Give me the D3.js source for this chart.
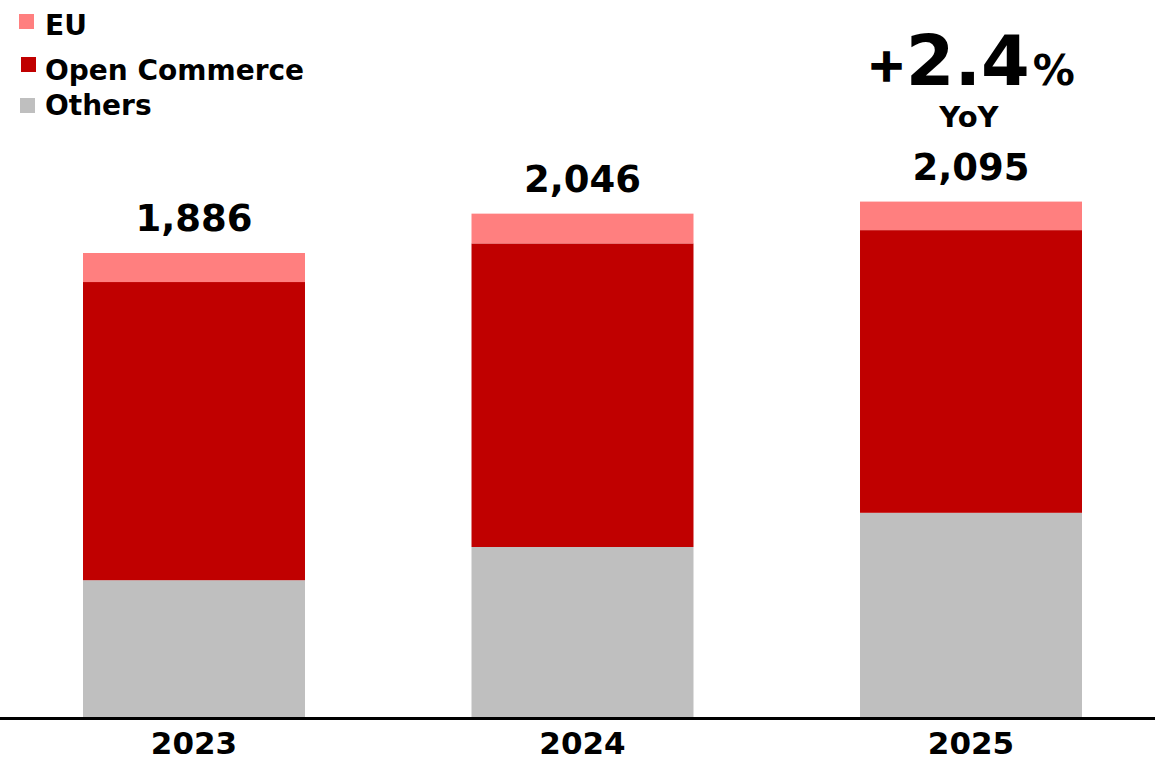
<!DOCTYPE html>
<html>
<head>
<meta charset="utf-8">
<script src="https://cdn.jsdelivr.net/npm/d3@7"></script>
<style>
  html, body { margin: 0; padding: 0; background: #ffffff; }
  svg { display: block; font-family: "DejaVu Sans", "Liberation Sans", sans-serif; font-weight: bold; }
</style>
</head>
<body>
<svg id="chart" width="1155" height="762"></svg>
<script>
// Revenue by segment, stacked per year
const years = ["2023", "2024", "2025"];
const others = [556, 691, 830];
const openCommerce = [1212, 1234, 1149];
const eu = [118, 121, 116];
const totalLabels = ["1,886", "2,046", "2,095"];
const growthLabel = { sign: "+", value: "2.4", unit: "%", caption: "YoY" };

const seriesNames = ["Others", "Open Commerce", "EU"];
const seriesColors = { "Others": "#bfbfbf", "Open Commerce": "#c00000", "EU": "#ff7f7f" };

const rows = years.map((y, i) => ({
  year: y,
  "Others": others[i],
  "Open Commerce": openCommerce[i],
  "EU": eu[i]
}));
const totals = rows.map(r => r["Others"] + r["Open Commerce"] + r["EU"]);

const W = 1155, H = 762;
const baseY = 717;
const svg = d3.select("#chart");

const x = d3.scaleBand().domain(years).range([83, 1082]).paddingInner(0.4286).paddingOuter(0);
const y = d3.scaleLinear().domain([0, 2500]).range([baseY, baseY - 2500 * 0.24602]);

const stack = d3.stack().keys(seriesNames);
const layers = stack(rows);

// stacked bars
svg.append("g").selectAll("g")
  .data(layers)
  .join("g")
  .attr("fill", d => seriesColors[d.key])
  .selectAll("rect")
  .data(d => d)
  .join("rect")
  .attr("x", d => x(d.data.year))
  .attr("width", x.bandwidth())
  .attr("y", d => y(d[1]))
  .attr("height", d => y(d[0]) - y(d[1]));

// baseline
svg.append("line")
  .attr("x1", 0).attr("x2", W)
  .attr("y1", baseY + 1.5).attr("y2", baseY + 1.5)
  .attr("stroke", "#000").attr("stroke-width", 3);

// year labels
const xAxis = d3.axisBottom(x).tickSize(0).tickPadding(0);
const ax = svg.append("g").attr("transform", `translate(0,${baseY})`).call(xAxis);
ax.select(".domain").remove();
ax.selectAll("text")
  .attr("dy", null)
  .attr("y", 37)
  .attr("font-size", 31)
  .attr("font-family", "DejaVu Sans, sans-serif")
  .attr("font-weight", "bold")
  .attr("fill", "#000");

// total labels above bars
svg.append("g").selectAll("text")
  .data(rows)
  .join("text")
  .attr("x", d => x(d.year) + x.bandwidth() / 2)
  .attr("y", (d, i) => y(totals[i]) - 22)
  .attr("text-anchor", "middle")
  .attr("font-size", 37)
  .attr("fill", "#000")
  .text((d, i) => totalLabels[i]);

// growth callout over the last bar
const lastX = x(years[years.length - 1]) + x.bandwidth() / 2;
const g = svg.append("text")
  .attr("x", lastX)
  .attr("y", 85)
  .attr("text-anchor", "middle")
  .attr("fill", "#000");
g.append("tspan").attr("font-size", 46).attr("dy", -4).attr("stroke", "#000").attr("stroke-width", 1.5).text(growthLabel.sign);
g.append("tspan").attr("font-size", 70).attr("dy", 4).text(growthLabel.value);
g.append("tspan").attr("font-size", 42).attr("dx", 3).text(growthLabel.unit);

svg.append("text")
  .attr("x", lastX - 2)
  .attr("y", 127)
  .attr("text-anchor", "middle")
  .attr("font-size", 29)
  .attr("fill", "#000")
  .text(growthLabel.caption);

// legend
const legendItems = [
  { name: "EU", sx: 19, sy: 14, ty: 35 },
  { name: "Open Commerce", sx: 21, sy: 57, ty: 80 },
  { name: "Others", sx: 20, sy: 98, ty: 115 }
];
const lg = svg.append("g");
lg.selectAll("rect")
  .data(legendItems)
  .join("rect")
  .attr("x", d => d.sx).attr("y", d => d.sy)
  .attr("width", 15).attr("height", 15)
  .attr("fill", d => seriesColors[d.name]);
lg.selectAll("text")
  .data(legendItems)
  .join("text")
  .attr("x", 45)
  .attr("y", d => d.ty)
  .attr("font-size", 28)
  .attr("fill", "#000")
  .text(d => d.name);
</script>
</body>
</html>
